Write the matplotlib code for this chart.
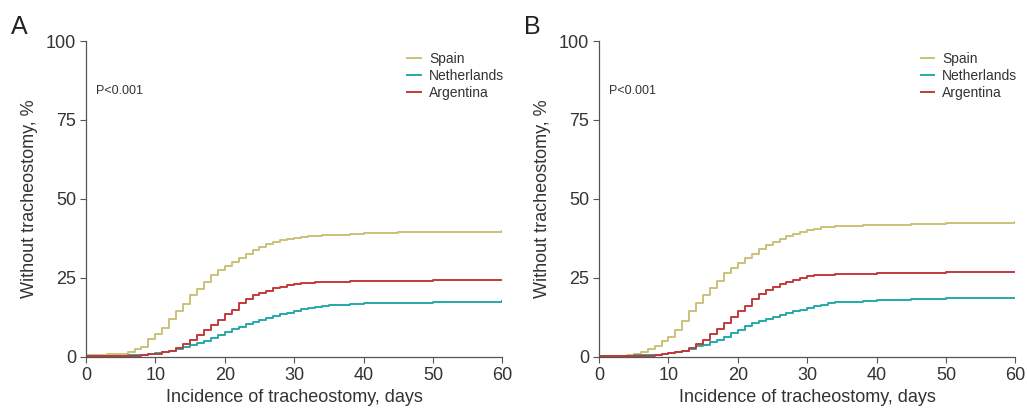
import numpy as np
import matplotlib
matplotlib.use('Agg')
import matplotlib.pyplot as plt

plt.rcParams['font.family'] = ['Liberation Sans', 'DejaVu Sans']

# data: cumulative incidence (%) by day
days = [0, 1, 2, 3, 4, 5, 6, 7, 8, 9, 10, 11, 12, 13, 14, 15, 16, 17, 18, 19, 20,
        21, 22, 23, 24, 25, 26, 27, 28, 29, 30, 31, 32, 33, 34, 35, 38, 40, 45, 50, 55, 60]

spain_a = [0.5, 0.6, 0.7, 0.8, 0.9, 1.1, 1.6, 2.4, 3.3, 5.8, 7.4, 9.3, 11.9, 14.7, 16.9, 19.5, 21.4, 23.7, 25.8, 27.4, 28.7,
           30.0, 31.4, 32.7, 34.0, 34.8, 35.6, 36.3, 36.9, 37.4, 37.7, 38.0, 38.2, 38.4, 38.6, 38.7, 39.0, 39.2, 39.4, 39.6, 39.7, 39.9]
neth_a = [0.2, 0.2, 0.3, 0.3, 0.3, 0.4, 0.5, 0.6, 0.7, 0.8, 1.2, 1.6, 2.0, 2.6, 3.3, 3.8, 4.4, 5.2, 6.0, 7.0, 8.0,
          8.8, 9.6, 10.3, 11.0, 11.6, 12.3, 12.9, 13.5, 14.0, 14.6, 15.1, 15.5, 15.9, 16.2, 16.4, 16.8, 17.0, 17.2, 17.4, 17.5, 17.6]
arg_a = [0.3, 0.3, 0.3, 0.3, 0.3, 0.3, 0.4, 0.4, 0.5, 0.8, 1.1, 1.5, 2.0, 2.8, 4.2, 5.5, 7.1, 8.6, 10.2, 11.8, 13.5,
         15.0, 17.0, 18.5, 19.5, 20.3, 21.0, 21.7, 22.3, 22.8, 23.2, 23.4, 23.5, 23.6, 23.7, 23.8, 23.9, 24.0, 24.1, 24.3, 24.4, 24.5]

spain_b = [0.3, 0.3, 0.3, 0.3, 0.6, 1.0, 1.5, 2.5, 3.5, 5.0, 6.3, 8.5, 11.5, 14.5, 17.0, 19.5, 21.8, 24.2, 26.5, 28.3, 29.8,
           31.2, 32.7, 34.2, 35.5, 36.4, 37.3, 38.3, 39.0, 39.6, 40.2, 40.6, 41.0, 41.2, 41.4, 41.5, 41.7, 41.8, 42.2, 42.4, 42.5, 42.6]
neth_b = [0.2, 0.2, 0.2, 0.2, 0.2, 0.5, 0.5, 0.6, 0.7, 0.9, 1.2, 1.6, 2.0, 2.5, 3.4, 3.8, 4.6, 5.4, 6.4, 7.6, 8.6,
          9.8, 10.6, 11.3, 11.9, 12.5, 13.2, 13.8, 14.4, 15.0, 15.6, 16.1, 16.6, 17.0, 17.3, 17.5, 17.8, 18.1, 18.4, 18.6, 18.7, 18.8]
arg_b = [0.3, 0.3, 0.3, 0.3, 0.3, 0.3, 0.3, 0.3, 0.5, 0.8, 1.2, 1.6, 2.0, 2.8, 4.2, 5.3, 7.3, 9.0, 10.8, 12.5, 14.5,
         16.2, 18.3, 20.0, 21.2, 22.2, 23.0, 23.7, 24.4, 25.0, 25.5, 25.8, 26.0, 26.1, 26.2, 26.3, 26.4, 26.5, 26.6, 26.8, 26.9, 27.0]

countries = ['Spain', 'Netherlands', 'Argentina']
colors = ['#cbc278', '#27a9a9', '#c23a3c']
panels = [('A', [spain_a, neth_a, arg_a]), ('B', [spain_b, neth_b, arg_b])]

fig = plt.figure(figsize=(10.27, 4.15), dpi=100)
lefts = [0.0837, 0.5833]
text_c = '#333333'

for (letter, series), left in zip(panels, lefts):
    ax = fig.add_axes([left, 0.1398, 0.4055, 0.7614])
    for vals, name, c in zip(series, countries, colors):
        ax.step(days, vals, where='post', color=c, lw=1.4, label=name)
    ax.set_xlim(0, 60)
    ax.set_ylim(0, 100)
    ax.set_xticks([0, 10, 20, 30, 40, 50, 60])
    ax.set_yticks([0, 25, 50, 75, 100])
    for s in ['top', 'right']:
        ax.spines[s].set_visible(False)
    for s in ['left', 'bottom']:
        ax.spines[s].set_color('#555555')
        ax.spines[s].set_linewidth(0.9)
    ax.tick_params(direction='out', length=4, width=0.8, color='#555555',
                   labelsize=13, labelcolor=text_c, pad=3)
    ax.set_xlabel('Incidence of tracheostomy, days', fontsize=13, color=text_c, labelpad=4)
    ax.set_ylabel('Without tracheostomy, %', fontsize=13, color=text_c, labelpad=6)
    ax.text(0.024, 0.842, 'P<0.001', transform=ax.transAxes, fontsize=9, color=text_c, va='center')
    ax.legend(loc='upper left', bbox_to_anchor=(0.772, 0.965), frameon=False, fontsize=10,
              handlelength=1.0, handletextpad=0.55, labelspacing=0.2, borderpad=0,
              borderaxespad=0, labelcolor=text_c)
    fig.text(left - 0.073, 0.905, letter, fontsize=18, color='#222222', va='bottom')

fig.savefig('out.png', dpi=100)
